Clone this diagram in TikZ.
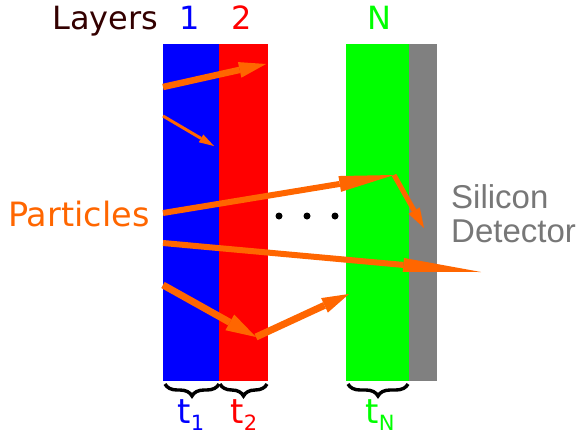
\documentclass[tikz,border=0pt]{standalone}
\usepackage{fontspec}
\setmainfont{DejaVu Sans}
\newfontfamily\arialfont{Liberation Sans}
\usetikzlibrary{arrows.meta,decorations.pathreplacing}
\definecolor{cBlue}{RGB}{0,0,255}
\definecolor{cRed}{RGB}{255,0,0}
\definecolor{cGreen}{RGB}{0,255,0}
\definecolor{cGray}{RGB}{128,128,128}
\definecolor{cOrange}{RGB}{255,102,0}
\definecolor{cDark}{RGB}{51,0,0}
\definecolor{cText}{RGB}{119,119,119}
\tikzset{
  parrow/.style={draw=cOrange, fill=cOrange, line width=#1, line cap=butt},
  hdr/.style={anchor=base, inner sep=0pt, font=\fontsize{32}{32}\selectfont},
  brc/.style={decorate, decoration={brace, amplitude=12pt, mirror, aspect=0.5}, line width=3.4pt, draw=black},
  tlab/.style={anchor=base, inner sep=0pt, font=\fontsize{34}{34}\selectfont},
  dotn/.style={circle, fill=black, inner sep=0pt, minimum size=7pt}
}
\newcommand{\subl}[1]{\raisebox{-7pt}{\fontsize{21}{21}\selectfont #1}}
\begin{document}
\begin{tikzpicture}[x=1pt,y=-1pt]
\useasboundingbox (0,0) rectangle (578,434);
% layers
\fill[cBlue] (163,44) rectangle (219,381);
\fill[cRed] (219,44) rectangle (268,381);
\fill[cGreen] (346,44) rectangle (409,381);
\fill[cGray] (409,44) rectangle (437,381);
\coordinate (b1) at (165,384); \coordinate (b2) at (219,384);
\coordinate (b3) at (267,384); \coordinate (g1) at (348,384);
\coordinate (g2) at (408,384);
\coordinate (b2r) at (220,384);
% header
\node[hdr, anchor=base west, text=cDark] (layers) at (52,29) {Layers};
\node[hdr, text=cBlue] (n1) at (190,29) {1};
\node[hdr, text=cRed] (n2) at (242,29) {2};
\node[hdr, text=cGreen] (nN) at (379,29) {N};
% dots
\node[dotn] (d1) at (279,216) {};
\node[dotn] (d2) at (307,216) {};
\node[dotn] (d3) at (335,216) {};
% labels
\node[anchor=base west, inner sep=0pt, text=cOrange, font=\fontsize{33.5}{33.5}\selectfont] (part) at (8,226) {Particles};
\node[anchor=base west, inner sep=0pt, text=cText, font=\arialfont\fontsize{33}{33}\selectfont] (sil) at (451,208) {Silicon};
\node[anchor=base west, inner sep=0pt, text=cText, font=\arialfont\fontsize{33}{33}\selectfont] (det) at (451,242) {Detector};
% arrows
\coordinate (a1s) at (163,87); \coordinate (a1e) at (266,64);
\coordinate (a2s) at (163,116); \coordinate (a2e) at (214,146);
\coordinate (a3s) at (163,213); \coordinate (a3m) at (394,175); \coordinate (a3e) at (424,228);
\coordinate (a4s) at (163,243); \coordinate (a4e) at (481,272);
\coordinate (a5s) at (163,285); \coordinate (a5m) at (256,337); \coordinate (a5e) at (349,294);
\draw[parrow=6.5pt, -{Triangle[length=27pt,width=16pt,line width=0pt]}] (a1s) -- (a1e);
\draw[parrow=3pt, -{Triangle[length=15pt,width=9pt,line width=0pt]}] (a2s) -- (a2e);
\draw[parrow=6pt, -{Triangle[length=55pt,width=16pt,line width=0pt]}] (a3s) -- (a3m);
\draw[parrow=5pt, -{Triangle[length=20pt,width=13pt,line width=0pt]}] (a3m) -- (a3e);
\draw[parrow=6pt, -{Triangle[length=78pt,width=14pt,line width=0pt]}] (a4s) -- (a4e);
\draw[parrow=7pt, -{Triangle[length=30pt,width=18pt,line width=0pt]}] (a5s) -- (a5m);
\draw[parrow=7pt, -{Triangle[length=27pt,width=16pt,line width=0pt]}] (a5m) -- (a5e);
% braces
\draw[brc] (b1) -- (b2);
\draw[brc] (b2r) -- (b3);
\draw[brc] (g1) -- (g2);
\node[tlab, text=cBlue] (t1) at (191,423) {t\subl{1}};
\node[tlab, text=cRed] (t2) at (244,423) {t\subl{2}};
\node[tlab, text=cGreen] (tN) at (380,423) {t\subl{N}};
\end{tikzpicture}
\end{document}
